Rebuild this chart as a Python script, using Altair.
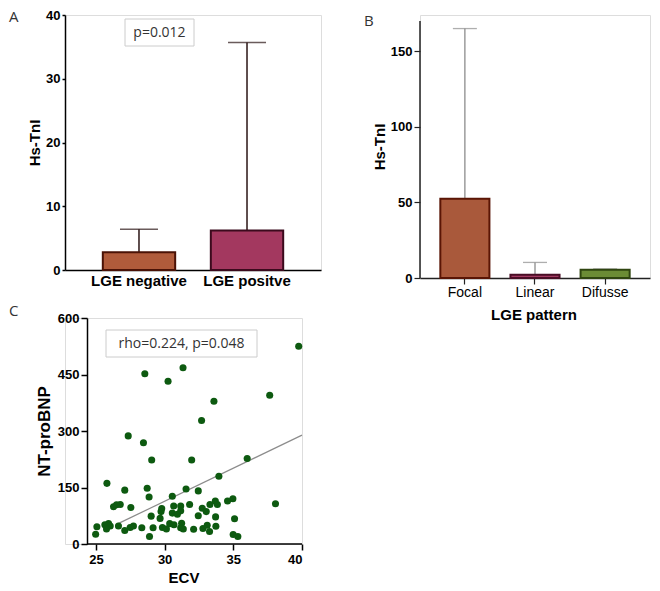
import altair as alt
import pandas as pd

# ---------------- data ----------------
groups_a = ["LGE negative", "LGE positve"]
mean_a = [2.8, 6.2]
upper_a = [6.4, 35.7]
fill_a = ["#b05b3b", "#a3385f"]
stroke_a = ["#4a1206", "#3b0a1d"]

patterns_b = ["Focal", "Linear", "Difusse"]
mean_b = [52.5, 2.2, 5.4]
upper_b = [165.0, 10.3, 6.0]
fill_b = ["#a9593b", "#a33b62", "#6b8b35"]
stroke_b = ["#5a1505", "#4a0d25", "#2f4510"]
b_axis_top = 170

ecv = [39.76, 31.34, 28.56, 30.25, 33.59, 37.65, 32.69, 27.35, 28.46, 29.06,
       31.97, 36.01, 33.95, 25.80, 28.73, 31.56, 32.45, 27.10, 30.56, 28.87,
       26.77, 26.28, 26.50, 27.54, 38.07, 34.97, 34.58, 33.69, 33.84, 33.30,
       31.82, 31.17, 30.66, 32.74, 29.79, 29.74, 31.17, 30.56, 30.93, 33.03,
       32.45, 33.71, 29.02, 29.67, 35.09, 31.24, 30.37, 30.68, 27.73, 26.64,
       27.49, 28.34, 25.92, 25.65, 26.04, 25.77, 25.07, 27.10, 29.16, 29.84,
       30.13, 31.17, 31.36, 32.11, 32.79, 33.10, 33.27, 33.73, 24.98, 28.90,
       34.99, 35.33]
ntprobnp = [525, 468, 452, 432, 379, 395, 328, 287, 269, 223,
            223, 227, 180, 161, 148, 146, 141, 143, 127, 125,
            105, 99, 104, 97, 107, 120, 114, 114, 105, 105,
            105, 101, 101, 95, 94, 86, 88, 82, 79, 86,
            75, 72, 74, 68, 67, 55, 54, 51, 48, 48,
            44, 43, 54, 51, 48, 40, 46, 36, 43, 44,
            40, 43, 40, 39, 41, 50, 33, 47, 26, 20,
            25, 20]
fit_ecv = [26.5, 40.0]
fit_bnp = [52, 289]
ecv_axis_range = [24.35, 40.0]

df_a = pd.DataFrame({"group": groups_a, "mean": mean_a, "upper": upper_a})
df_b = pd.DataFrame({"pattern": patterns_b, "mean": mean_b, "upper": upper_b})
df_c = pd.DataFrame({"ECV": ecv, "NT": ntprobnp})
df_fit = pd.DataFrame({"ECV": fit_ecv, "NT": fit_bnp})
one = pd.DataFrame({"k": [0]})

AX = "Liberation Sans"
NOTE = "Open Sans"

def ann_box(x1, x2, y1, y2):
    return alt.Chart(one).mark_rect(fill="white", stroke="#cccccc", strokeWidth=1).encode(
        x=alt.value(x1), x2=alt.value(x2), y=alt.value(y1), y2=alt.value(y2))

def ann_text(txt, x, y, size=14, align="center", font=NOTE, weight="normal", color="#333333"):
    return alt.Chart(one).mark_text(text=txt, font=font, fontSize=size, color=color,
                                    fontWeight=weight, align=align, baseline="middle").encode(
        x=alt.value(x), y=alt.value(y))

# ---------------- panel A ----------------
xa = alt.X("group:N", sort=groups_a,
           scale=alt.Scale(paddingInner=0.33, paddingOuter=0.35),
           axis=alt.Axis(title=None, labelAngle=0, ticks=False, labelFont=AX,
                         labelFontSize=15, labelFontWeight="bold", labelColor="black",
                         labelPadding=3, domainColor="black", domainWidth=1.5))
ya_axis = alt.Axis(values=[0, 10, 20, 30, 40], title="Hs-TnI", titleFont=AX,
                   titleFontSize=15, titleFontWeight="bold", titleColor="black",
                   titlePadding=3, labelFont=AX, labelFontSize=13, labelFontWeight="bold",
                   labelColor="black", labelPadding=2, tickSize=3, tickColor="black",
                   tickWidth=1.5, domainColor="black", domainWidth=1.5, grid=False)
ya_scale = alt.Scale(domain=[0, 40], nice=False)

base_a = alt.Chart(df_a)
err_a = base_a.mark_rule(color="#2b1515", strokeWidth=1.5).encode(
    x=xa, y=alt.Y("mean:Q", scale=ya_scale, axis=ya_axis), y2="upper:Q")
cap_a = base_a.mark_tick(color="#2b1515", thickness=1.5, size=38).encode(
    x=xa, y=alt.Y("upper:Q", scale=ya_scale, axis=ya_axis))
bars_a = base_a.mark_bar(strokeWidth=2).encode(
    x=xa, y=alt.Y("mean:Q", scale=ya_scale, axis=ya_axis),
    color=alt.Color("group:N", scale=alt.Scale(domain=groups_a, range=fill_a), legend=None),
    stroke=alt.Stroke("group:N", scale=alt.Scale(domain=groups_a, range=stroke_a), legend=None))
panel_a = alt.layer(
    err_a, cap_a, bars_a,
    ann_box(60, 129, 4, 31), ann_text("p=0.012", 94.5, 17.5, 14),
    ann_text("A", -56, 2, 15, "left"),
).properties(width=256, height=255)

# ---------------- panel B ----------------
B_H = 257            # height of the visible 0..170 axis
B_EXTRA = 6          # blank band above it, so the axis starts lower than panel A's
b_domain_top = b_axis_top * (B_H + B_EXTRA) / B_H

xb = alt.X("pattern:N", sort=patterns_b,
           scale=alt.Scale(paddingInner=0.3, paddingOuter=0.29),
           axis=alt.Axis(title=None, labelAngle=0, labelFont=AX, labelFontSize=14,
                         labelColor="black", labelPadding=1, tickSize=6,
                         tickColor="#222222", tickWidth=1.2,
                         domainColor="#222222", domainWidth=1.5))
yb_axis = alt.Axis(values=[0, 50, 100, 150], title="Hs-TnI", titleFont=AX,
                   titleFontSize=15, titleFontWeight="bold", titleColor="black",
                   titlePadding=3, labelFont=AX, labelFontSize=13, labelFontWeight="bold",
                   labelColor="black", labelPadding=2, tickSize=6, tickColor="#222222",
                   tickWidth=1.2, domain=False, grid=False)
yb_scale = alt.Scale(domain=[0, b_domain_top], nice=False)

base_b = alt.Chart(df_b)
err_b = base_b.mark_rule(color="#8c8c8c", strokeWidth=1.3).encode(
    x=xb, y=alt.Y("mean:Q", scale=yb_scale, axis=yb_axis), y2="upper:Q")
cap_b = base_b.mark_tick(color="#8c8c8c", thickness=1.3, size=24).encode(
    x=xb, y=alt.Y("upper:Q", scale=yb_scale, axis=yb_axis))
bars_b = base_b.mark_bar(strokeWidth=2).encode(
    x=xb, y=alt.Y("mean:Q", scale=yb_scale, axis=yb_axis),
    color=alt.Color("pattern:N", scale=alt.Scale(domain=patterns_b, range=fill_b), legend=None),
    stroke=alt.Stroke("pattern:N", scale=alt.Scale(domain=patterns_b, range=stroke_b), legend=None))
y_axis_line_b = alt.Chart(one).mark_rule(color="#222222", strokeWidth=1.5).encode(
    x=alt.value(0), y=alt.Y(datum=0, type="quantitative"), y2=alt.Y2(datum=b_axis_top))
panel_b = alt.layer(
    err_b, cap_b, bars_b, y_axis_line_b,
    ann_text("B", -56, B_EXTRA, 15, "left"),
).properties(width=230, height=B_H + B_EXTRA)

# ---------------- panel C ----------------
C_SHIFT = 22          # the C plot starts this many px right of panel A's plot
C_W = 215             # width of the visible ECV axis
C_H = 226
px_per_unit = C_W / (ecv_axis_range[1] - ecv_axis_range[0])
x_left = ecv_axis_range[0] - C_SHIFT / px_per_unit

xc = alt.X("ECV:Q", scale=alt.Scale(domain=[x_left, ecv_axis_range[1]], nice=False, zero=False),
           axis=alt.Axis(values=[25, 30, 35, 40], title="ECV", titleFont=AX,
                         titleFontSize=15, titleFontWeight="bold", titleColor="black",
                         titlePadding=4, labelFont=AX, labelFontSize=13,
                         labelFontWeight="bold", labelColor="black", labelPadding=3,
                         tickSize=6, tickColor="black", tickWidth=1.5,
                         domain=False, grid=False))
yc = alt.Y("NT:Q", scale=alt.Scale(domain=[0, 600], nice=False),
           axis=alt.Axis(values=[0, 150, 300, 450, 600], title="NT-proBNP", titleFont=AX,
                         titleFontSize=17, titleFontWeight="bold", titleColor="black",
                         titlePadding=4, labelFont=AX, labelFontSize=13,
                         labelFontWeight="bold", labelColor="black", labelPadding=2,
                         tickSize=6, tickColor="black", tickWidth=1.5, offset=-C_SHIFT,
                         domainColor="black", domainWidth=1.5, grid=False))
x_axis_line = alt.Chart(one).mark_rule(color="black", strokeWidth=1.5).encode(
    x=alt.X(datum=ecv_axis_range[0], type="quantitative"),
    x2=alt.X2(datum=ecv_axis_range[1]), y=alt.value(C_H))
pts_c = alt.Chart(df_c).mark_circle(size=50, color="#0d5a10", opacity=1).encode(x=xc, y=yc)
fit_c = alt.Chart(df_fit).mark_line(color="#8c8c8c", strokeWidth=1.2).encode(x=xc, y=yc)
panel_c = alt.layer(
    fit_c, pts_c, x_axis_line,
    ann_box(19 + C_SHIFT, 170 + C_SHIFT, 12, 39),
    ann_text("rho=0.224, p=0.048", 94.5 + C_SHIFT, 25.5, 14),
    ann_text("C", -56, -7, 15, "left"),
    # x-axis title of panel B, which sits level with the top of panel C
    ann_text("LGE pattern", 447 + C_SHIFT, -3, 15, "center", AX, "bold", "black"),
).properties(width=C_W + C_SHIFT, height=C_H)

# ---------------- layout ----------------
row1 = alt.concat(panel_a, panel_b, columns=2, spacing=41, align="none").resolve_scale(
    color="independent", stroke="independent")
chart = alt.concat(row1, panel_c, columns=1, spacing=3, align="none").resolve_scale(
    color="independent", stroke="independent").properties(
    padding=0
).configure_view(stroke=None).configure(background="white")

chart.save("out.html", embed_options={"renderer": "svg", "actions": False})
